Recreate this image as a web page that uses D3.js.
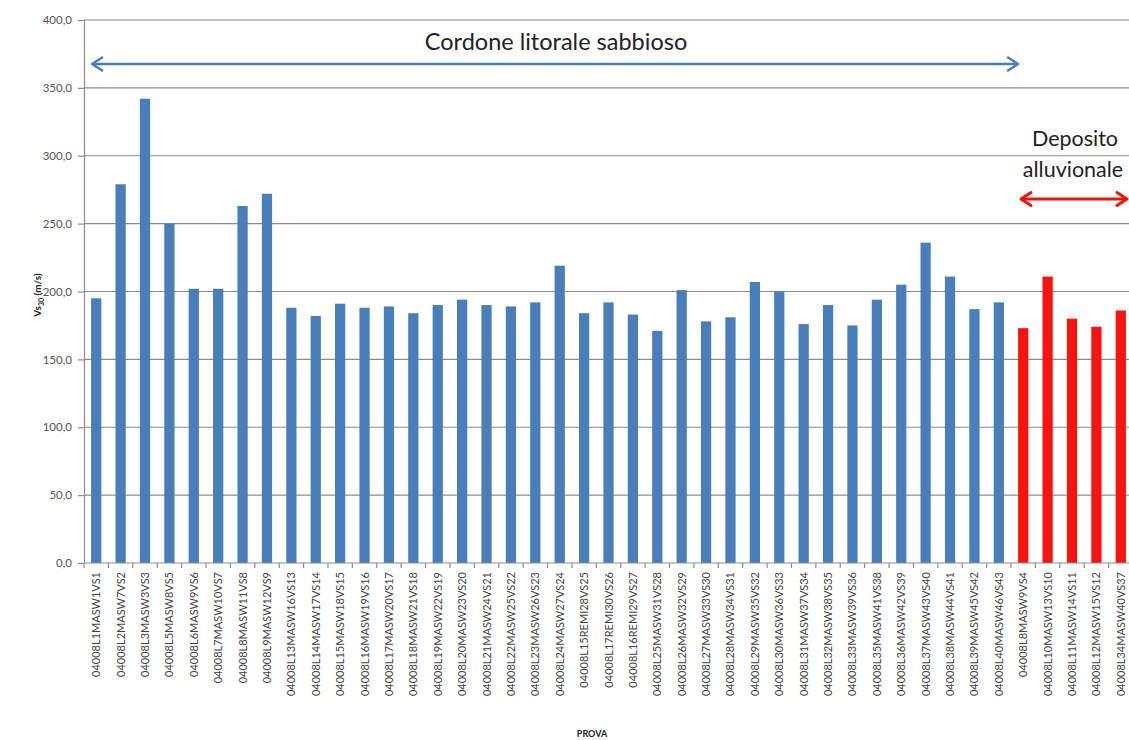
<!DOCTYPE html>
<html><head><meta charset="utf-8">
<script src="https://cdn.jsdelivr.net/npm/d3@7"></script>
<style>body{margin:0;background:#fff;} svg{display:block;font-family:Lato,"Open Sans",sans-serif;}</style>
</head><body><svg id="c" width="1129" height="740"></svg>
<script>
const categories = ["04008L1MASW1VS1","04008L2MASW7VS2","04008L3MASW3VS3","04008L5MASW8VS5","04008L6MASW9VS6","04008L7MASW10VS7","04008L8MASW11VS8","04008L9MASW12VS9","04008L13MASW16VS13","04008L14MASW17VS14","04008L15MASW18VS15","04008L16MASW19VS16","04008L17MASW20VS17","04008L18MASW21VS18","04008L19MASW22VS19","04008L20MASW23VS20","04008L21MASW24VS21","04008L22MASW25VS22","04008L23MASW26VS23","04008L24MASW27VS24","04008L15REMI28VS25","04008L17REMI30VS26","04008L16REMI29VS27","04008L25MASW31VS28","04008L26MASW32VS29","04008L27MASW33VS30","04008L28MASW34VS31","04008L29MASW35VS32","04008L30MASW36VS33","04008L31MASW37VS34","04008L32MASW38VS35","04008L33MASW39VS36","04008L35MASW41VS38","04008L36MASW42VS39","04008L37MASW43VS40","04008L38MASW44VS41","04008L39MASW45VS42","04008L40MASW46VS43","04008L8MASW9VS4","04008L10MASW13VS10","04008L11MASW14VS11","04008L12MASW15VS12","04008L34MASW40VS37"];
const values = [195,279,342,250,202,202,263,272,188,182,191,188,189,184,190,194,190,189,192,219,184,192,183,171,201,178,181,207,200,176,190,175,194,205,236,211,187,192,173,211,180,174,186];
const groups = ["Cordone","Cordone","Cordone","Cordone","Cordone","Cordone","Cordone","Cordone","Cordone","Cordone","Cordone","Cordone","Cordone","Cordone","Cordone","Cordone","Cordone","Cordone","Cordone","Cordone","Cordone","Cordone","Cordone","Cordone","Cordone","Cordone","Cordone","Cordone","Cordone","Cordone","Cordone","Cordone","Cordone","Cordone","Cordone","Cordone","Cordone","Cordone","Deposito","Deposito","Deposito","Deposito","Deposito"];
const yTicks = [0,50,100,150,200,250,300,350,400];

const svg = d3.select("#c");
const L = 84, R = 1133, T = 20, B = 563;
const x = d3.scaleBand().domain(categories).range([L, R]).paddingInner(0.58).paddingOuter(0.29);
const y = d3.scaleLinear().domain([0, 400]).range([B, T]);
const fmt = v => d3.format(".1f")(v).replace(".", ",");

// gridlines
svg.append("g").selectAll("line").data(yTicks.filter(d => d > 0)).join("line")
  .attr("x1", L).attr("x2", 1129).attr("y1", d => y(d)).attr("y2", d => y(d))
  .attr("stroke", "#8c8c8c").attr("stroke-width", 1.2);

// bars
svg.append("g").selectAll("rect").data(categories).join("rect")
  .attr("x", d => x(d)).attr("width", x.bandwidth())
  .attr("y", (d, i) => y(values[i])).attr("height", (d, i) => B - y(values[i]))
  .attr("fill", (d, i) => groups[i] === "Cordone" ? "#4a7ebb" : "#f5140f");

// y axis
const ya = svg.append("g").attr("transform", `translate(${L},0)`)
  .call(d3.axisLeft(y).tickValues(yTicks).tickFormat(fmt).tickSize(6).tickPadding(6));
ya.select(".domain").attr("stroke", "#8c8c8c").attr("stroke-width", 1.2);
ya.selectAll(".tick line").attr("stroke", "#8c8c8c").attr("stroke-width", 1.2);
ya.selectAll("text").attr("fill", "#555").style("font-size", "11.5px").style("font-family", "Lato, sans-serif");

// x axis
const step = x.step();
svg.append("line").attr("x1", L).attr("x2", 1129).attr("y1", B).attr("y2", B).attr("stroke", "#8c8c8c").attr("stroke-width", 1.2);
svg.append("g").selectAll("line").data(d3.range(categories.length + 1)).join("line")
  .attr("x1", i => L + i * step).attr("x2", i => L + i * step)
  .attr("y1", B).attr("y2", B + 5).attr("stroke", "#8c8c8c").attr("stroke-width", 1.2);
svg.append("g").selectAll("text").data(categories).join("text")
  .attr("transform", d => `translate(${x(d) + x.bandwidth() / 2 + 4},${B + 9}) rotate(-90)`)
  .attr("text-anchor", "end").attr("fill", "#444")
  .style("font-size", "11px").text(d => d);

// axis titles
const yt = svg.append("text").attr("transform", "translate(41,295) rotate(-90)")
  .attr("text-anchor", "middle").style("font-size", "10px").style("font-weight", "bold").attr("fill", "#222");
yt.append("tspan").text("Vs");
yt.append("tspan").attr("dy", 3).style("font-size", "7px").text("30");
yt.append("tspan").attr("dy", -3).text(" (m/s)");
svg.append("text").attr("x", 592).attr("y", 737).attr("text-anchor", "middle")
  .style("font-size", "9px").style("font-weight", "bold").attr("fill", "#222").text("PROVA");

// annotations
function dblArrow(x1, x2, yy, color, w) {
  const g = svg.append("g").attr("stroke", color).attr("fill", "none").attr("stroke-width", w).attr("stroke-linecap", "round").attr("stroke-linejoin", "round");
  g.append("line").attr("x1", x1 + 1).attr("x2", x2 - 1).attr("y1", yy).attr("y2", yy);
  g.append("polyline").attr("points", `${x1 + 10},${yy - 6.5} ${x1},${yy} ${x1 + 10},${yy + 6.5}`);
  g.append("polyline").attr("points", `${x2 - 10},${yy - 6.5} ${x2},${yy} ${x2 - 10},${yy + 6.5}`);
}
svg.append("text").attr("x", 556).attr("y", 50).attr("text-anchor", "middle")
  .style("font-size", "23.5px").attr("fill", "#222").text("Cordone litorale sabbioso");
dblArrow(x(categories[0]) + 1, x(categories[37]) + x.bandwidth() + 14, 64, "#4a7ebb", 2.5);
svg.append("text").attr("x", 1075).attr("y", 146).attr("text-anchor", "middle")
  .style("font-size", "21.5px").attr("fill", "#222").text("Deposito");
svg.append("text").attr("x", 1073).attr("y", 177).attr("text-anchor", "middle")
  .style("font-size", "21.5px").attr("fill", "#222").text("alluvionale");
dblArrow(1021, 1127, 199, "#e8150f", 3);
</script></body></html>
